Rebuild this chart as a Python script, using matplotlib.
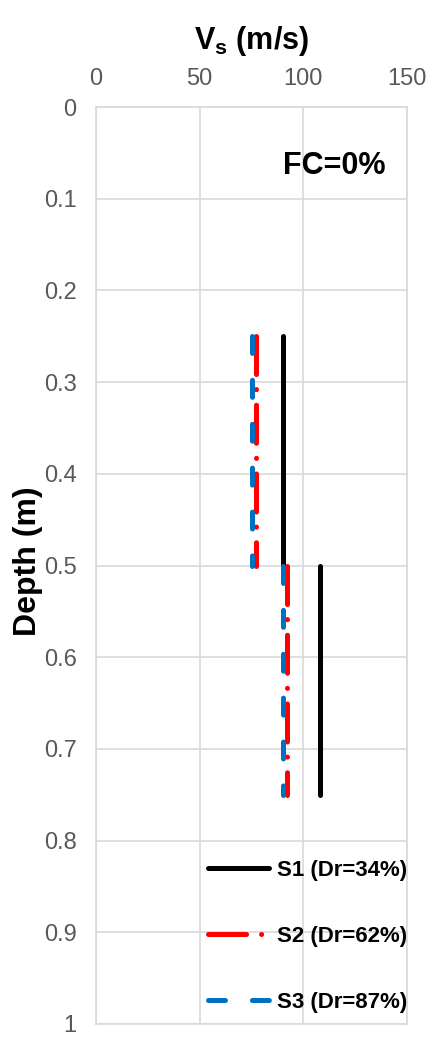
import matplotlib
matplotlib.use('Agg')
import matplotlib.pyplot as plt

# ---------------- DATA ----------------
layer_top = [0.25, 0.5]
layer_bottom = [0.5, 0.75]

s1_vs = [90, 108]
s2_vs = [77, 92]
s3_vs = [75, 90]

labels = ['S1 (Dr=34%)', 'S2 (Dr=62%)', 'S3 (Dr=87%)']

x_ticks = [0, 50, 100, 150]
y_ticks = [0, 0.1, 0.2, 0.3, 0.4, 0.5, 0.6, 0.7, 0.8, 0.9, 1]
y_ticklabels = ['0', '0.1', '0.2', '0.3', '0.4', '0.5', '0.6', '0.7', '0.8', '0.9', '1']

# ---------------- STYLE ----------------
plt.rcParams['font.family'] = ['Liberation Sans', 'DejaVu Sans']
plt.rcParams['lines.scale_dashes'] = False
plt.rcParams['mathtext.fontset'] = 'custom'
plt.rcParams['mathtext.bf'] = 'Liberation Sans:bold'
plt.rcParams['mathtext.rm'] = 'Liberation Sans:bold'

grid_col = '#d9d9d9'
tick_col = '#595959'

fig = plt.figure(figsize=(4.3, 10.45), dpi=100)
ax = fig.add_axes([96 / 430, 1 - 1024 / 1045, 311 / 430, 917 / 1045])

lw = 3.6
styles = [
    dict(color='black', linestyle='-'),
    dict(color='#ff0000', dashes=(27.4, 10.8, 0.1, 11.2)),
    dict(color='#0070c0', dashes=(12.2, 19.4)),
]

for i, (vs, st) in enumerate(zip([s1_vs, s2_vs, s3_vs], styles)):
    for j in range(len(vs)):
        ax.plot(
            [vs[j], vs[j]],
            [layer_top[j], layer_bottom[j]],
            linewidth=lw,
            dash_capstyle='round',
            solid_capstyle='round',
            zorder=3 + i,
            label=labels[i] if j == 0 else None,
            **st
        )

ax.set_xlim(0, 150)
ax.set_ylim(1, 0)
ax.set_xticks(x_ticks)
ax.set_yticks(y_ticks)
ax.set_yticklabels(y_ticklabels)

ax.xaxis.tick_top()
ax.xaxis.set_label_position('top')
ax.tick_params(axis='both', length=0, labelsize=17, colors=tick_col)
ax.tick_params(axis='x', pad=12)
ax.tick_params(axis='y', pad=14)

ax.grid(True, color=grid_col, linewidth=1.2)
ax.set_axisbelow(True)
for sp in ax.spines.values():
    sp.set_color(grid_col)
    sp.set_linewidth(1.2)

ax.set_xlabel(r'V$_{\mathbf{s}}$ (m/s)', fontsize=22, fontweight='bold', labelpad=14)
ax.set_ylabel('Depth (m)', fontsize=23, fontweight='bold', labelpad=0)
ax.yaxis.set_label_coords(-0.170, 0.505)

ax.text(0.765, 0.936, 'FC=0%', transform=ax.transAxes, fontsize=22,
        fontweight='bold', ha='center', va='center')

ax.legend(
    loc='upper left',
    bbox_to_anchor=(0.36, 0.179),
    frameon=False,
    handlelength=2.75,
    handletextpad=0.35,
    labelspacing=2.03,
    borderpad=0,
    borderaxespad=0,
    prop={'size': 16, 'weight': 'bold'},
)

plt.savefig('out.png', dpi=100)
